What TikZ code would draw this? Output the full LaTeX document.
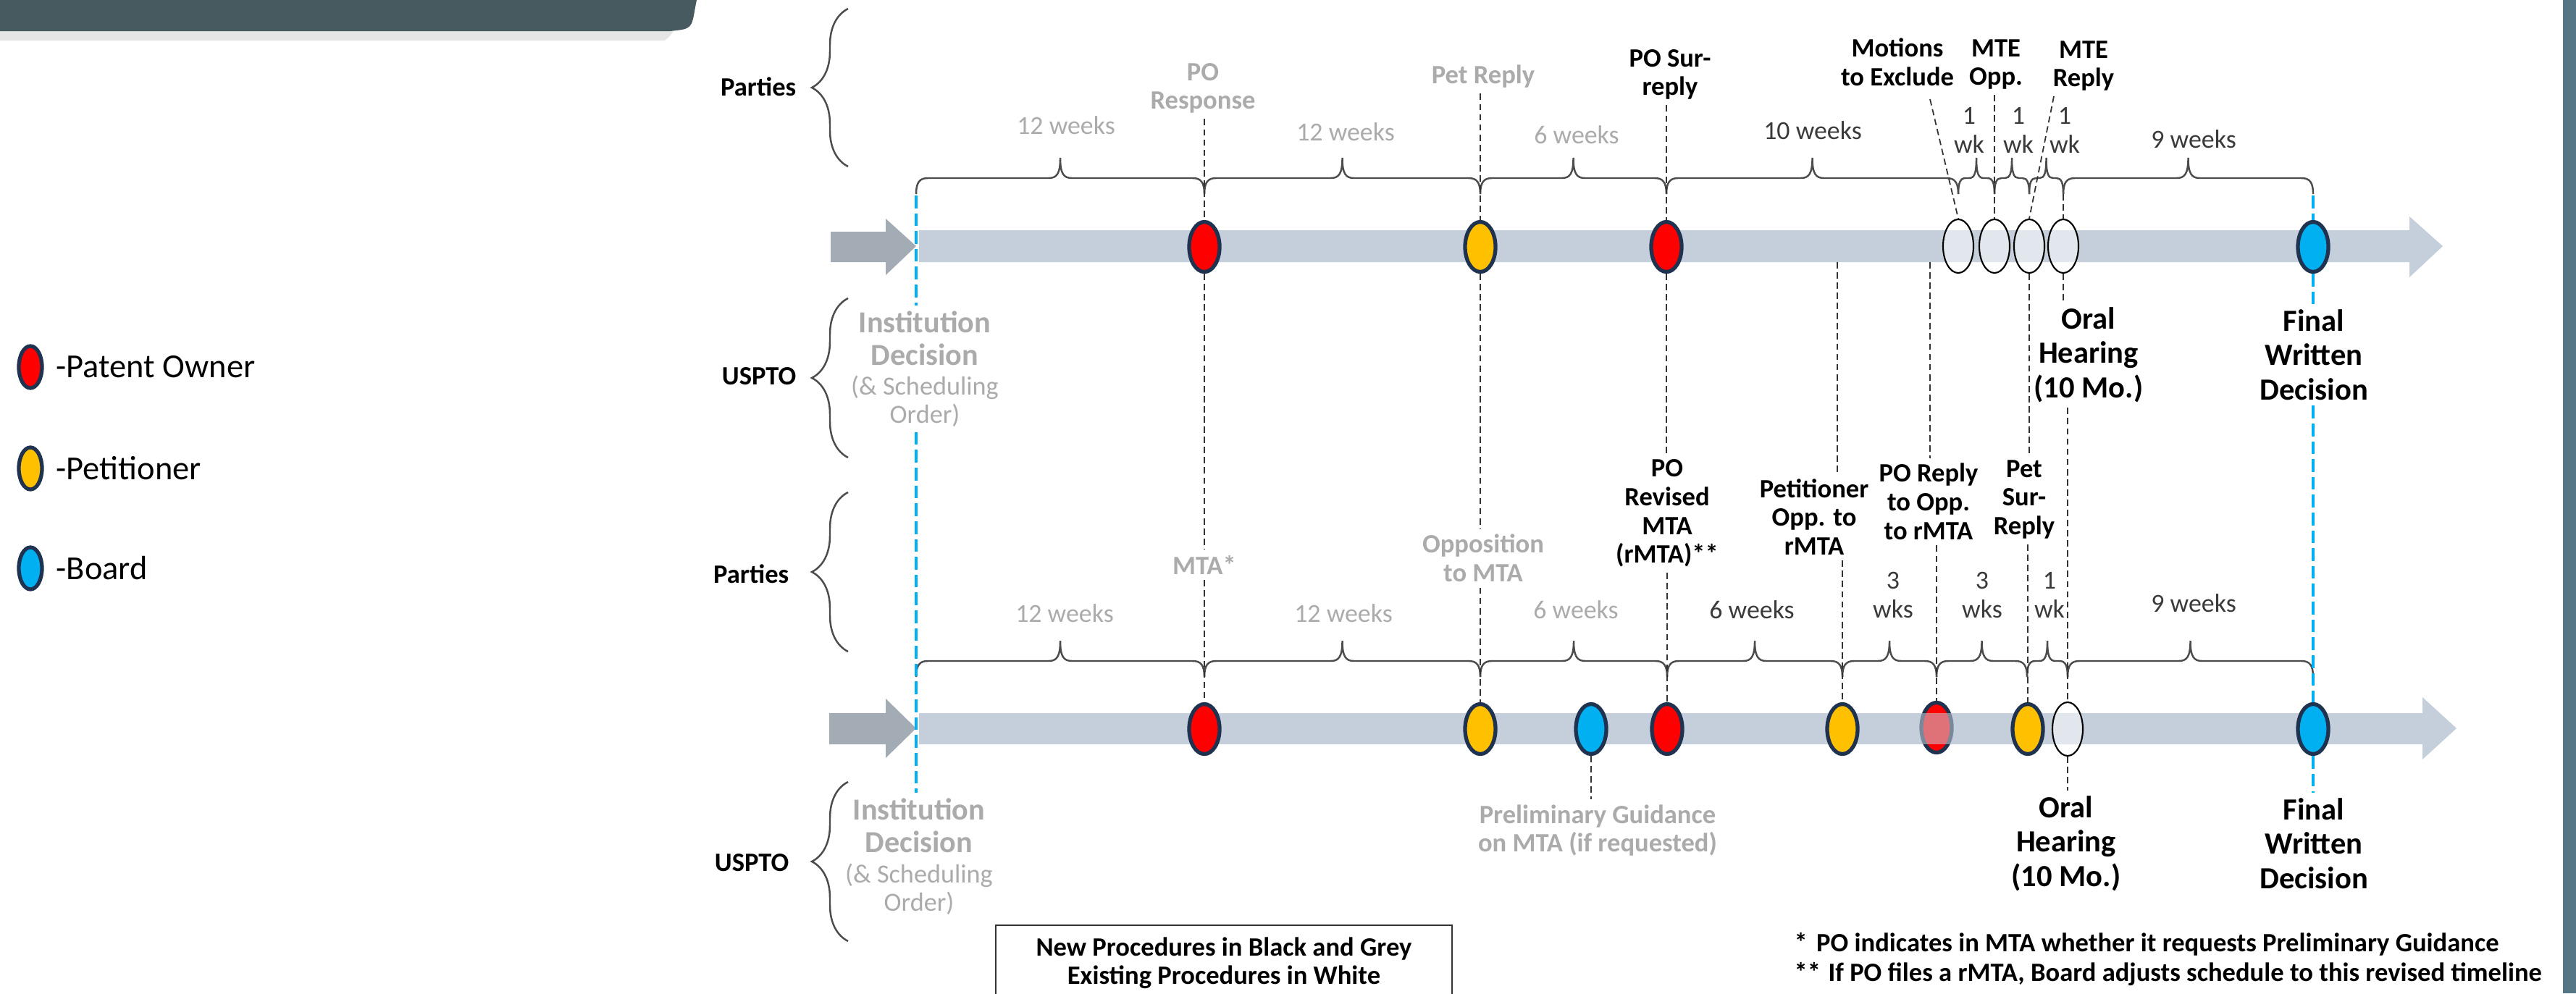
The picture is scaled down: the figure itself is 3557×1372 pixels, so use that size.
\documentclass[tikz,border=0pt]{standalone}
\usepackage{fontspec}
\setmainfont{Carlito}
\usetikzlibrary{shapes.geometric,decorations.pathreplacing}
\pgfdeclarelayer{bg}
\pgfsetlayers{bg,main}
\definecolor{navy}{HTML}{1F3350}
\definecolor{pored}{HTML}{FF0000}
\definecolor{petyel}{HTML}{FFC000}
\definecolor{brdblue}{HTML}{00B0F0}
\definecolor{barcol}{HTML}{C5CFDB}
\definecolor{stubcol}{HTML}{A3ABB5}
\definecolor{hdrcol}{HTML}{475A60}
\definecolor{edgecol}{HTML}{557785}
\definecolor{oldtxt}{HTML}{ABABAB}
\definecolor{durtxt}{HTML}{3A3A3A}
\newcommand\tlbrace[3]{%
  \pgfmathsetmacro\bmid{(#1+#2)/2}%
  \pgfmathsetmacro\brad{min(16,(#2-#1)/5)}%
  \draw[brc] (#1,#3) .. controls (#1,#3-16) and (#1+0.3*\brad,#3-22) .. (#1+\brad,#3-22)
    -- (\bmid-\brad,#3-22) .. controls (\bmid-0.3*\brad,#3-22) and (\bmid,#3-28) .. (\bmid,#3-50)
    .. controls (\bmid,#3-28) and (\bmid+0.3*\brad,#3-22) .. (\bmid+\brad,#3-22)
    -- (#2-\brad,#3-22) .. controls (#2-0.3*\brad,#3-22) and (#2,#3-16) .. (#2,#3);}
\begin{document}
\begin{tikzpicture}[x=0.01cm,y=-0.01cm,
  ev/.style={ellipse, draw=navy, line width=1.5pt, minimum width=0.42cm, minimum height=0.69cm, inner sep=0pt},
  wev/.style={ellipse, draw=black, line width=0.6pt, fill=white, fill opacity=0.5, minimum width=0.42cm, minimum height=0.74cm, inner sep=0pt},
  lgev/.style={ellipse, draw=navy, line width=1.5pt, minimum width=0.32cm, minimum height=0.58cm, inner sep=0pt},
  lgt/.style={anchor=west, font=\fontsize{13.2}{15}\selectfont, inner sep=0pt},
  evl/.style={align=center, font=\fontsize{10.4}{11.3}\selectfont\bfseries, inner sep=2pt},
  oldl/.style={evl, text=oldtxt},
  durl/.style={align=center, font=\fontsize{10.2}{11.4}\selectfont, text=durtxt, inner sep=1pt},
  oldd/.style={durl, text=oldtxt},
  bigl/.style={align=center, font=\fontsize{12.1}{13.5}\selectfont\bfseries, inner sep=2pt},
  oldbig/.style={bigl, font=\fontsize{12}{12.8}\selectfont\bfseries, text=oldtxt},
  oldsm/.style={align=center, font=\fontsize{10.3}{11}\selectfont, text=oldtxt, inner sep=2pt},
  side/.style={anchor=east, font=\fontsize{10.4}{12}\selectfont\bfseries, inner sep=0pt},
  brc/.style={draw=black!70, line width=0.7pt},
  vbrc/.style={draw=black!70, line width=0.7pt, decorate, decoration={brace, amplitude=0.5cm}},
  lead/.style={draw=black!80, line width=0.5pt, dash pattern=on 2.5pt off 1.5pt},
  bluel/.style={draw=brdblue, line width=1.3pt, dash pattern=on 5pt off 2pt}]
\useasboundingbox (0,0) rectangle (3557,1372);

\begin{pgfonlayer}{bg}
  \fill[white] (0,0) rectangle (3557,1372);
  % header and edge
  \fill[black, opacity=0.10] (0,43) -- (930,43) .. controls (925,50) .. (918,56) -- (0,56) -- cycle;
  \fill[hdrcol] (0,0) -- (962,0) -- (960,10) .. controls (955,40) .. (925,43) -- (0,43) -- cycle;
  \fill[edgecol] (3539,0) rectangle (3557,1372);
  % upper bar
  \fill[stubcol] (1147,320) -- (1223,320) -- (1223,302) -- (1265,340) -- (1223,380) -- (1223,362) -- (1147,362) -- cycle;
  \fill[barcol] (1269,318) -- (3327,318) -- (3327,299) -- (3373,340) -- (3327,383) -- (3327,362) -- (1269,362) -- cycle;
  % lower bar
  \fill[stubcol] (1145,985) -- (1223,985) -- (1223,965) -- (1265,1006) -- (1223,1047) -- (1223,1028) -- (1145,1028) -- cycle;
  \fill[barcol] (1269,985) -- (3345,985) -- (3345,963) -- (3392,1006) -- (3345,1049) -- (3345,1028) -- (1269,1028) -- cycle;
\end{pgfonlayer}

% legend
\node[lgev, fill=pored] (lg1) at (42,507) {};
\node[lgt] (lt1) at (77,507) {-Patent Owner};
\node[lgev, fill=petyel] (lg2) at (42,647) {};
\node[lgt] (lt2) at (77,647) {-Petitioner};
\node[lgev, fill=brdblue] (lg3) at (42,785) {};
\node[lgt] (lt3) at (77,785) {-Board};

% side labels and braces
\node[side] (par1) at (1100,120) {Parties};
\node[side] (usp1) at (1100,520) {USPTO};
\node[side] (par2) at (1090,793) {Parties};
\node[side] (usp2) at (1090,1192) {USPTO};
\draw[vbrc] (1171,230) -- (1171,12);
\draw[vbrc] (1171,632) -- (1171,412);
\draw[vbrc] (1171,900) -- (1171,680);
\draw[vbrc] (1171,1300) -- (1171,1080);

% upper events
\node[ev, fill=pored] (U1) at (1663,341) {};
\node[ev, fill=petyel] (U2) at (2044,341) {};
\node[ev, fill=pored] (U3) at (2301,341) {};
\node[wev] (W1) at (2704,340) {};
\node[wev] (W2) at (2754,340) {};
\node[wev] (W3) at (2802,340) {};
\node[wev] (W4) at (2849,340) {};
\node[ev, fill=brdblue] (U4) at (3194,341) {};

% lower events
\node[ev, fill=pored] (L1) at (1663,1007) {};
\node[ev, fill=petyel] (L2) at (2044,1007) {};
\node[ev, fill=brdblue] (L3) at (2197,1007) {};
\node[ev, fill=pored] (L4) at (2302,1007) {};
\node[ev, fill=petyel] (L5) at (2544,1007) {};
\node[ev, fill=pored] (L6) at (2674,1005) {};
\node[ev, fill=petyel] (L7) at (2800,1007) {};
\node[wev] (L8) at (2855,1007) {};
\node[ev, fill=brdblue] (L9) at (3194,1007) {};
\fill[barcol, opacity=0.55] (2647,985) rectangle (2701,1028);

% upper labels
\node[oldl] (pores) at (1661,122) {PO\\Response};
\node[oldl] (petrep) at (2048,106) {Pet Reply};
\node[evl] (posur) at (2306,103) {PO Sur-\\reply};
\node[evl] (mte) at (2620,86) {Motions\\to Exclude};
\node[evl] (mteopp) at (2756,89) {MTE\\Opp.};
\node[evl] (mterep) at (2877,91) {MTE\\Reply};
\node[durl] (wk1) at (2719,180) {1\\wk};
\node[durl] (wk2) at (2787,180) {1\\wk};
\node[durl] (wk3) at (2851,180) {1\\wk};
\node[oldd] (d1) at (1472,173) {12 weeks};
\node[oldd] (d2) at (1858,182) {12 weeks};
\node[oldd] (d3) at (2177,186) {6 weeks};
\node[durl] (d4) at (2503,180) {10 weeks};
\node[durl] (d5) at (3029,192) {9 weeks};
\node[oldbig] (inst1a) at (1277,467) {Institution\\Decision};
\node[oldsm] (inst1b) at (1277,554) {(\& Scheduling\\Order)};
\node[bigl] (oral1) at (2884,490) {Oral\\Hearing\\(10 Mo.)};
\node[bigl] (fwd1) at (3195,490) {Final\\Written\\Decision};

% lower labels
\node[oldl] (mta) at (1663,780) {MTA*};
\node[oldl] (opp) at (2048,771) {Opposition\\to MTA};
\node[evl] (porev) at (2302,709) {PO\\Revised\\MTA\\(rMTA)**};
\node[evl] (petopp) at (2505,714) {Petitioner\\Opp. to\\rMTA};
\node[evl] (poreply) at (2663,693) {PO Reply\\to Opp.\\to rMTA};
\node[evl] (petsur) at (2795,690) {Pet\\Sur-\\Reply};
\node[oldd] (e1) at (1470,847) {12 weeks};
\node[oldd] (e2) at (1855,847) {12 weeks};
\node[oldd] (e3) at (2176,842) {6 weeks};
\node[durl] (e4) at (2419,842) {6 weeks};
\node[durl] (e5) at (2614,822) {3\\wks};
\node[durl] (e6) at (2737,822) {3\\wks};
\node[durl] (e7) at (2830,822) {1\\wk};
\node[durl] (e8) at (3029,833) {9 weeks};
\node[oldbig] (inst2a) at (1269,1140) {Institution\\Decision};
\node[oldsm] (inst2b) at (1269,1228) {(\& Scheduling\\Order)};
\node[oldl] (prelim) at (2206,1147) {Preliminary Guidance\\on MTA (if requested)};
\node[bigl] (oral2) at (2853,1165) {Oral\\Hearing\\(10 Mo.)};
\node[bigl] (fwd2) at (3195,1165) {Final\\Written\\Decision};

% legend box and footnotes
\node[draw=black!80, line width=0.6pt, anchor=north, minimum width=6.3cm, minimum height=1.04cm,
      align=center, font=\fontsize{10.4}{11.1}\selectfont\bfseries] (newbox) at (1690,1277)
      {New Procedures in Black and Grey\\Existing Procedures in White};
\node[anchor=west, align=left, font=\fontsize{10.4}{11.4}\selectfont\bfseries, inner sep=0pt] (fn) at (2477,1325)
      {*\hspace{3.5pt}PO indicates in MTA whether it requests Preliminary Guidance\\
       **\hspace{3pt}If PO files a rMTA, Board adjusts schedule to this revised timeline};

% braces
\tlbrace{1265}{1663}{268}
\tlbrace{1663}{2044}{268}
\tlbrace{2044}{2301}{268}
\tlbrace{2301}{2704}{268}
\tlbrace{2704}{2754}{268}
\tlbrace{2754}{2802}{268}
\tlbrace{2802}{2849}{268}
\tlbrace{2849}{3194}{268}
\tlbrace{1265}{1663}{935}
\tlbrace{1663}{2044}{935}
\tlbrace{2044}{2302}{935}
\tlbrace{2302}{2544}{935}
\tlbrace{2544}{2674}{935}
\tlbrace{2674}{2799}{935}
\tlbrace{2799}{2855}{935}
\tlbrace{2855}{3194}{935}

% named free ends
\coordinate (bT) at (1265,270);
\coordinate (fT) at (3194,270);
\coordinate (cA) at (2537,362);
\coordinate (cB) at (2665,362);
\coordinate (mteL) at (2665,137);
\coordinate (mrepL) at (2836,133);
\coordinate (w4T) at (2849,268);

% blue lines
\draw[bluel] (bT) -- (bT |- inst1a.north);
\draw[bluel] (bT |- inst1b.south) -- (bT |- inst2a.north);
\draw[bluel] (fT) -- (U4.north);
\draw[bluel] (U4.south) -- (U4.south |- fwd1.north);
\draw[bluel] (L9.north |- fwd1.south) -- (L9.north);
\draw[bluel] (L9.south) -- (L9.south |- fwd2.north);

% leader lines
\draw[lead] (U1.north |- pores.south) -- (U1.north);
\draw[lead] (U1.south) -- (U1.south |- mta.north);
\draw[lead] (L1.north |- mta.south) -- (L1.north);
\draw[lead] (U2.north |- petrep.south) -- (U2.north);
\draw[lead] (U2.south) -- (U2.south |- opp.north);
\draw[lead] (L2.north |- opp.south) -- (L2.north);
\draw[lead] (U3.north |- posur.south) -- (U3.north);
\draw[lead] (U3.south) -- (U3.south |- porev.north);
\draw[lead] (L4.north |- porev.south) -- (L4.north);
\draw[lead] (cA) -- (cA |- petopp.north);
\draw[lead] (L5.north |- petopp.south) -- (L5.north);
\draw[lead] (cB) -- (cB |- poreply.north);
\draw[lead] (L6.north |- poreply.south) -- (L6.north);
\draw[lead] (W3.south) -- (W3.south |- petsur.north);
\draw[lead] (L7.north |- petsur.south) -- (L7.north);
\draw[lead] (W4.south) -- (W4.south |- oral1.north);
\draw[lead] (L8.north |- oral1.south) -- (L8.north);
\draw[lead] (L8.south) -- (L8.south |- oral2.north);
\draw[lead] (L3.south) -- (L3.south |- prelim.north);
\draw[lead] (mteL) -- (W1.north);
\draw[lead] (W2.north |- mteopp.south) -- (W2.north);
\draw[lead] (mrepL) -- (W3.north);
\draw[lead] (w4T) -- (W4.north);
\end{tikzpicture}
\end{document}
